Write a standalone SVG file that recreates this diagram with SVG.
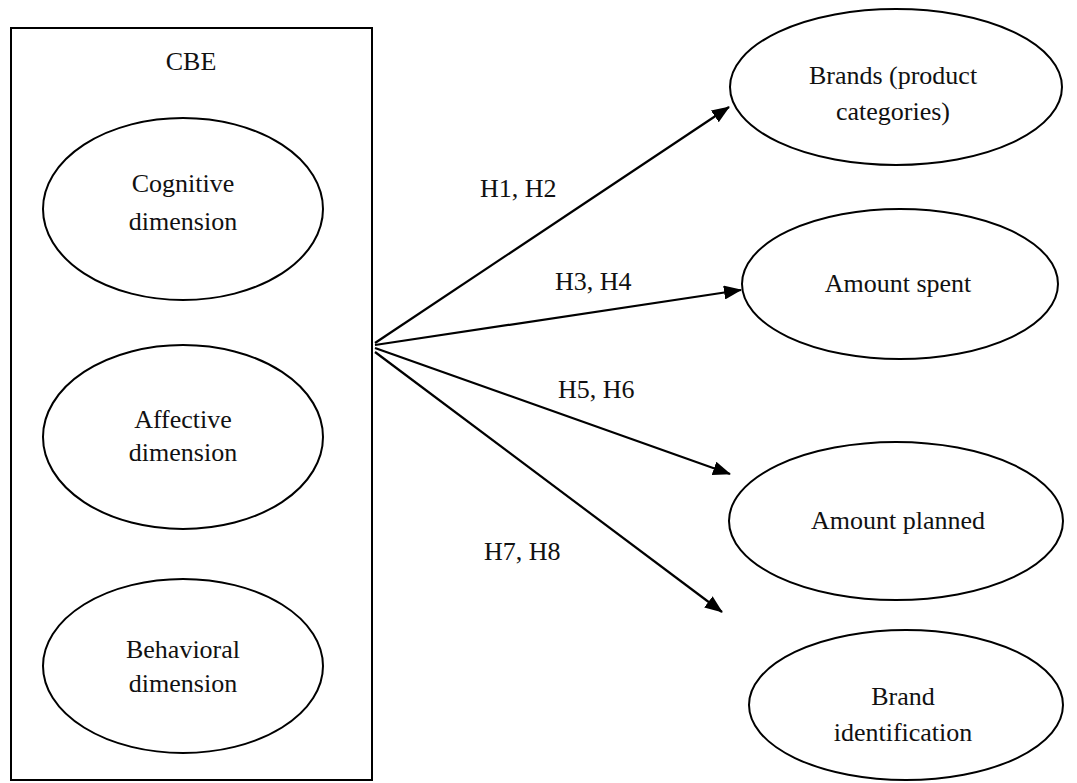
<svg xmlns="http://www.w3.org/2000/svg" width="1077" height="783" viewBox="0 0 1077 783">
<style>
.shape{fill:#fff;stroke:#000;stroke-width:2}
.t{font-family:"Liberation Serif","Times New Roman",serif;font-size:26px;fill:#111;text-anchor:middle}
.lab{font-family:"Liberation Serif","Times New Roman",serif;font-size:26px;fill:#111}
.con{stroke:#000;stroke-width:2.2;fill:none;marker-end:url(#ah)}
</style>
<defs>
<marker id="ah" markerWidth="18" markerHeight="14" refX="17" refY="7" orient="auto" markerUnits="userSpaceOnUse">
<path d="M0,0 L18,7 L0,14 Z" fill="#000"/>
</marker>
</defs>
<rect width="1077" height="783" fill="#fff"/>
<g id="cbe">
<rect class="shape" x="11" y="28" width="361" height="752"/>
<text class="t" x="191" y="70">CBE</text>
</g>
<g id="cognitive">
<ellipse class="shape" cx="183" cy="209" rx="140" ry="91"/>
<text class="t" x="183" y="192">Cognitive</text>
<text class="t" x="183" y="230">dimension</text>
</g>
<g id="affective">
<ellipse class="shape" cx="183" cy="437" rx="140" ry="92"/>
<text class="t" x="183" y="428">Affective</text>
<text class="t" x="183" y="461">dimension</text>
</g>
<g id="behavioral">
<ellipse class="shape" cx="183" cy="666" rx="140" ry="87"/>
<text class="t" x="183" y="658">Behavioral</text>
<text class="t" x="183" y="692">dimension</text>
</g>
<g id="brands">
<ellipse class="shape" cx="896" cy="87" rx="166" ry="78"/>
<text class="t" x="893" y="84">Brands (product</text>
<text class="t" x="893" y="120">categories)</text>
</g>
<g id="spent">
<ellipse class="shape" cx="900" cy="284" rx="158" ry="75"/>
<text class="t" x="898" y="292">Amount spent</text>
</g>
<g id="planned">
<ellipse class="shape" cx="896" cy="521" rx="167" ry="79"/>
<text class="t" x="898" y="529">Amount planned</text>
</g>
<g id="identification">
<ellipse class="shape" cx="906" cy="705" rx="157" ry="75"/>
<text class="t" x="903" y="705">Brand</text>
<text class="t" x="903" y="741">identification</text>
</g>
<g id="connectors">
<line class="con" x1="375" y1="343" x2="729" y2="107"/>
<line class="con" x1="375" y1="345" x2="741" y2="290"/>
<line class="con" x1="375" y1="348" x2="730" y2="474"/>
<line class="con" x1="375" y1="352" x2="722" y2="612"/>
<text class="lab" x="480" y="197">H1, H2</text>
<text class="lab" x="555" y="290">H3, H4</text>
<text class="lab" x="558" y="398">H5, H6</text>
<text class="lab" x="484" y="560">H7, H8</text>
</g>
</svg>
